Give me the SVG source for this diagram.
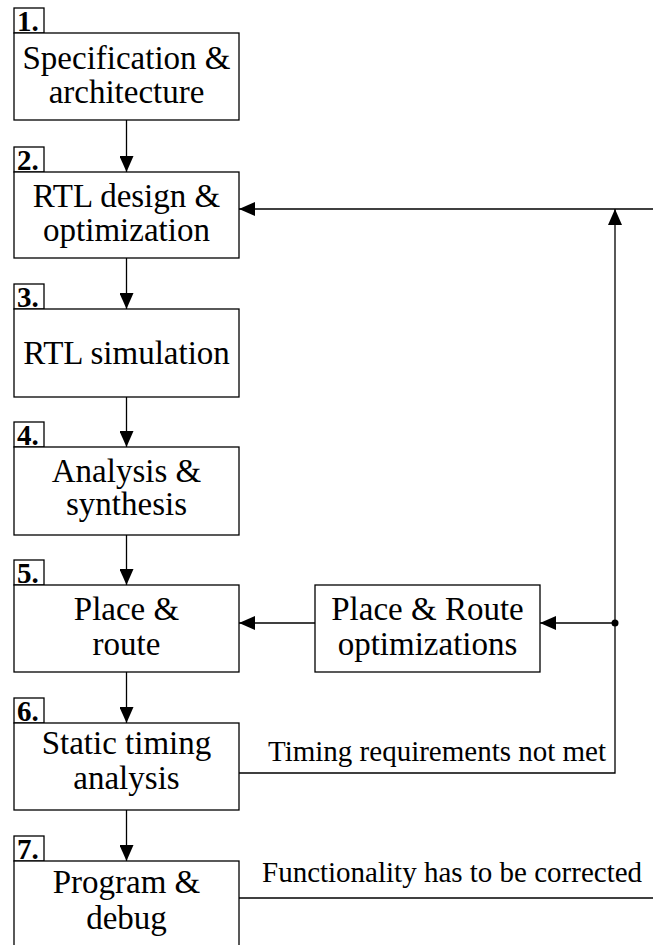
<svg xmlns="http://www.w3.org/2000/svg" width="653" height="945" viewBox="0 0 653 945">
<style>
.nodebox{fill:#fff;stroke:#000;stroke-width:1.3}
.numbox{fill:#fff;stroke:#000;stroke-width:1.3}
.maintxt{font-family:"Liberation Serif",serif;font-size:33px;text-anchor:middle;fill:#000}
.numtxt{font-family:"Liberation Serif",serif;font-size:29px;font-weight:bold;fill:#000}
.edgetxt{font-family:"Liberation Serif",serif;font-size:29px;fill:#000}
.conn{fill:none;stroke:#000;stroke-width:1.3}
</style>
<defs>
<marker id="ah" markerUnits="userSpaceOnUse" markerWidth="16" markerHeight="14" viewBox="0 0 16 14" refX="16" refY="7" orient="auto">
<path d="M0,0 L16,7 L0,14 Z" fill="#000"/>
</marker>
</defs>
<rect width="653" height="945" fill="#fff"/>
<g id="connectors">
<line class="conn" x1="126.5" y1="120" x2="126.5" y2="172" marker-end="url(#ah)"/>
<line class="conn" x1="126.5" y1="258" x2="126.5" y2="309" marker-end="url(#ah)"/>
<line class="conn" x1="126.5" y1="397" x2="126.5" y2="447" marker-end="url(#ah)"/>
<line class="conn" x1="126.5" y1="535" x2="126.5" y2="585" marker-end="url(#ah)"/>
<line class="conn" x1="126.5" y1="672" x2="126.5" y2="723" marker-end="url(#ah)"/>
<line class="conn" x1="126.5" y1="810" x2="126.5" y2="861" marker-end="url(#ah)"/>
<line class="conn" x1="315" y1="623" x2="239" y2="623" marker-end="url(#ah)"/>
<line class="conn" x1="615" y1="623" x2="540" y2="623" marker-end="url(#ah)"/>
<circle cx="615" cy="623" r="3.5" fill="#000"/>
<polyline class="conn" points="239,773 615,773 615,209" marker-end="url(#ah)"/>
<line class="conn" x1="653" y1="209" x2="239" y2="209" marker-end="url(#ah)"/>
<line class="conn" x1="239" y1="898" x2="653" y2="898"/>
<text class="edgetxt" x="268" y="761" style="font-family:'Liberation Serif',serif">Timing requirements not met</text>
<text class="edgetxt" x="262" y="882" style="font-family:'Liberation Serif',serif">Functionality has to be corrected</text>
</g>
<g id="n1">
<rect class="numbox" x="14" y="8" width="30" height="25"/>
<text class="numtxt" x="17" y="31" style="font-family:'Liberation Serif',serif">1.</text>
<rect class="nodebox" x="14" y="33" width="225" height="87"/>
<text class="maintxt" x="126.5" y="69" style="font-family:'Liberation Serif',serif">Specification &amp;</text>
<text class="maintxt" x="126.5" y="103" style="font-family:'Liberation Serif',serif">architecture</text>
</g>
<g id="n2">
<rect class="numbox" x="14" y="147" width="30" height="25"/>
<text class="numtxt" x="17" y="170" style="font-family:'Liberation Serif',serif">2.</text>
<rect class="nodebox" x="14" y="172" width="225" height="86"/>
<text class="maintxt" x="126.5" y="207" style="font-family:'Liberation Serif',serif">RTL design &amp;</text>
<text class="maintxt" x="126.5" y="241" style="font-family:'Liberation Serif',serif">optimization</text>
</g>
<g id="n3">
<rect class="numbox" x="14" y="284" width="30" height="25"/>
<text class="numtxt" x="17" y="307" style="font-family:'Liberation Serif',serif">3.</text>
<rect class="nodebox" x="14" y="309" width="225" height="88"/>
<text class="maintxt" x="126.5" y="364" style="font-family:'Liberation Serif',serif">RTL simulation</text>
</g>
<g id="n4">
<rect class="numbox" x="14" y="422" width="30" height="25"/>
<text class="numtxt" x="17" y="445" style="font-family:'Liberation Serif',serif">4.</text>
<rect class="nodebox" x="14" y="447" width="225" height="88"/>
<text class="maintxt" x="126.5" y="482" style="font-family:'Liberation Serif',serif">Analysis &amp;</text>
<text class="maintxt" x="126.5" y="515" style="font-family:'Liberation Serif',serif">synthesis</text>
</g>
<g id="n5">
<rect class="numbox" x="14" y="560" width="30" height="25"/>
<text class="numtxt" x="17" y="583" style="font-family:'Liberation Serif',serif">5.</text>
<rect class="nodebox" x="14" y="585" width="225" height="87"/>
<text class="maintxt" x="126.5" y="620" style="font-family:'Liberation Serif',serif">Place &amp;</text>
<text class="maintxt" x="126.5" y="655" style="font-family:'Liberation Serif',serif">route</text>
</g>
<g id="n5b">
<rect class="nodebox" x="315" y="585" width="225" height="87"/>
<text class="maintxt" x="427.5" y="620" style="font-family:'Liberation Serif',serif">Place &amp; Route</text>
<text class="maintxt" x="427.5" y="655" style="font-family:'Liberation Serif',serif">optimizations</text>
</g>
<g id="n6">
<rect class="numbox" x="14" y="698" width="30" height="25"/>
<text class="numtxt" x="17" y="721" style="font-family:'Liberation Serif',serif">6.</text>
<rect class="nodebox" x="14" y="723" width="225" height="87"/>
<text class="maintxt" x="126.5" y="754" style="font-family:'Liberation Serif',serif">Static timing</text>
<text class="maintxt" x="126.5" y="789" style="font-family:'Liberation Serif',serif">analysis</text>
</g>
<g id="n7">
<rect class="numbox" x="14" y="836" width="30" height="25"/>
<text class="numtxt" x="17" y="859" style="font-family:'Liberation Serif',serif">7.</text>
<rect class="nodebox" x="14" y="861" width="225" height="100"/>
<text class="maintxt" x="126.5" y="893" style="font-family:'Liberation Serif',serif">Program &amp;</text>
<text class="maintxt" x="126.5" y="929" style="font-family:'Liberation Serif',serif">debug</text>
</g>
</svg>
